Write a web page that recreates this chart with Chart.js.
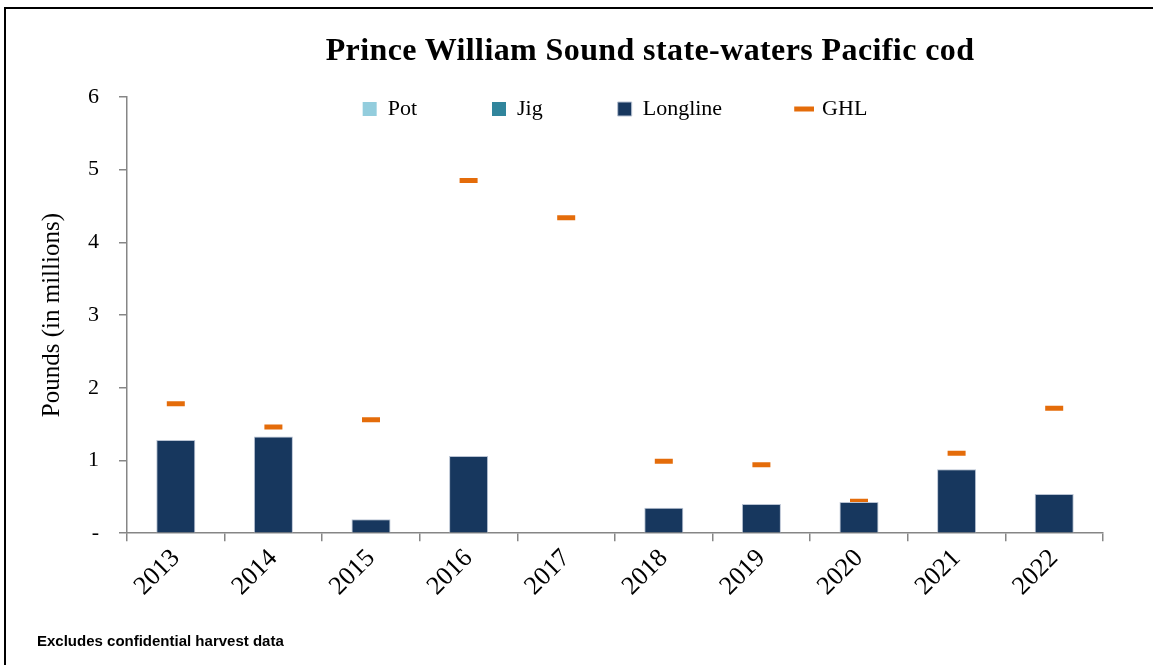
<!DOCTYPE html>
<html>
<head>
<meta charset="utf-8">
<script src="https://cdn.jsdelivr.net/npm/chart.js@4.4.1/dist/chart.umd.min.js"></script>
<style>
  body { margin: 0; background: #fff; }
  #wrap { position: relative; width: 1153px; height: 665px; overflow: hidden; }
  #frame { position: absolute; left: 4px; top: 7px; width: 1160px; height: 670px;
           border-left: 2px solid #000; border-top: 2px solid #000; pointer-events: none; }
  #title { position: absolute; left: 0; width: 1300px; top: 31px; text-align: center;
           font: bold 32px 'Liberation Serif', serif; letter-spacing: 0.4px; color: #000; }
  #note { position: absolute; left: 37px; top: 632px;
          font: bold 15px 'Liberation Sans', sans-serif; color: #000; }
</style>
</head>
<body>
<div id="wrap">
  <canvas id="codChart" width="1153" height="665"></canvas>
  <div id="title">Prince William Sound state-waters Pacific cod</div>
  <div id="note">Excludes confidential harvest data</div>
  <div id="frame"></div>
</div>
<script>
// values in millions of pounds
const years = ['2013', '2014', '2015', '2016', '2017', '2018', '2019', '2020', '2021', '2022'];
const potLbs = [0, 0, 0, 0, 0, 0, 0, 0, 0, 0];
const jigLbs = [0, 0, 0, 0, 0, 0, 0, 0, 0, 0];
const longlineLbs = [1.28, 1.33, 0.19, 1.06, 0, 0.35, 0.40, 0.43, 0.88, 0.54];
const ghlLbs = [1.78, 1.46, 1.56, 4.85, 4.34, 0.99, 0.94, 0.44, 1.10, 1.72];
const yTickLabels = ['-', '1', '2', '3', '4', '5', '6'];

const axisGray = '#868686';
const legendPad = 75;

// legend row is drawn inside the plot area, just under the top tick
// (legend clips to its own box, so give it room again)
const legendNudge = {
    id: 'legendNudge',
    afterLayout(chart) {
        const lg = chart.legend;
        lg.top = chart.chartArea.top + 1 - legendPad;
        lg.bottom = lg.top + legendPad * 2 + 30;
        lg.height = lg.bottom - lg.top;
    }
};

Chart.defaults.font.family = "'Liberation Serif', serif";
Chart.defaults.color = '#000';

const ctx = document.getElementById('codChart').getContext('2d');
new Chart(ctx, {
    type: 'bar',
    data: {
        labels: years,
        datasets: [
            { label: 'Pot', data: potLbs, backgroundColor: '#93CDDD', pointStyle: 'rect', borderWidth: 0 },
            { label: 'Jig', data: jigLbs, backgroundColor: '#31859C', pointStyle: 'rect', borderWidth: 0 },
            { label: 'Longline', data: longlineLbs, backgroundColor: '#17375E', pointStyle: 'rect',
              borderColor: '#B9C3D3', borderWidth: 1, borderSkipped: 'bottom' },
            {
                type: 'line',
                label: 'GHL',
                data: ghlLbs,
                stack: 'ghl',
                showLine: false,
                borderColor: '#E46C0A',
                backgroundColor: '#E46C0A',
                borderWidth: 4,
                pointStyle: 'line',
                pointRadius: 9,
                pointHoverRadius: 9,
                pointBorderWidth: 5,
                pointBorderColor: '#E46C0A'
            }
        ]
    },
    options: {
        responsive: false,
        animation: false,
        barPercentage: 0.4,
        categoryPercentage: 1,
        layout: { padding: { left: 9, right: 50, top: 96, bottom: 61 } },
        plugins: {
            legend: {
                position: 'top',
                fullSize: false,
                maxHeight: 1,
                labels: {
                    usePointStyle: true,
                    boxWidth: 14,
                    boxHeight: 14,
                    padding: legendPad,
                    font: { size: 22 }
                }
            },
            tooltip: { enabled: false }
        },
        scales: {
            x: {
                stacked: true,
                grid: { offset: true, drawOnChartArea: false, color: axisGray, tickLength: 8, lineWidth: 1.5 },
                border: { color: axisGray, width: 1.5 },
                ticks: { maxRotation: 45, minRotation: 45, padding: 2, font: { size: 26 } }
            },
            y: {
                stacked: true,
                min: 0,
                max: 6,
                grid: { drawOnChartArea: false, color: axisGray, tickLength: 8, lineWidth: 1.5 },
                border: { color: axisGray, width: 1.5 },
                ticks: {
                    stepSize: 1,
                    padding: 20,
                    font: { size: 22 },
                    callback: v => yTickLabels[v]
                },
                title: {
                    display: true,
                    text: 'Pounds (in millions)',
                    font: { size: 25 },
                    padding: { top: 28, bottom: 1 }
                }
            }
        }
    },
    plugins: [legendNudge]
});
</script>
</body>
</html>
